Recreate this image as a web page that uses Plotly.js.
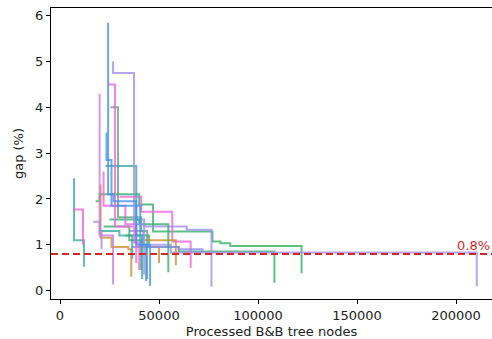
<!DOCTYPE html>
<html>
<head>
<meta charset="utf-8">
<script src="https://cdn.plot.ly/plotly-3.0.1.min.js"></script>
<style>html,body{margin:0;padding:0;background:#fff;}#chart{width:492px;height:339px;}</style>
</head>
<body>
<div id="chart"></div>
<script>
// Processed B&B tree nodes at which each run's gap changes
const runNodes = [
  [7100, 7100, 12100],
  [6600, 11600],
  [18000, 20000, 40000, 47000, 47000, 77000, 81000, 86000, 122000],
  [33000, 45000, 60000, 108300],
  [35000, 42000, 56000, 210500],
  [30000, 41000, 56700, 66000],
  [38000, 42500, 64000, 76500],
  [20000, 20500, 26000, 34500, 36000],
  [39000, 50000],
  [42000, 58500],
  [36000, 60000, 72000],
  [25000, 40000, 54700],
  [20500, 30000, 36500],
  [22000, 22000, 33000, 38500],
  [22000, 35000, 41000],
  [16700, 20000, 21000],
  [20000, 20000, 26800],
  [25500, 29300, 29300, 41000, 44000],
  [23000, 38500, 38500, 41500],
  [23500, 23500, 26000, 40500, 45500],
  [24300, 27800, 27800, 37500, 40000],
  [26800, 26800, 37400, 37400, 42500],
  [24300, 24300, 27000, 38500, 43500]
];
// gap (%) after each change
const runGaps = [
  [2.45, 1.1, 0.52],
  [1.77, 1.0],
  [1.95, 2.1, 1.88, 1.55, 1.29, 1.07, 1.03, 0.97, 0.38],
  [1.2, 0.95, 0.85, 0.17],
  [1.3, 1.0, 0.83, 0.1],
  [2.05, 1.72, 1.07, 0.5],
  [1.55, 1.4, 1.33, 0.08],
  [2.3, 1.15, 0.95, 0.9, 0.3],
  [0.95, 0.6],
  [1.1, 0.55],
  [0.95, 0.9, 0.85],
  [1.55, 1.45, 0.4],
  [1.3, 1.2, 0.7],
  [2.6, 1.85, 1.45, 0.6],
  [1.4, 1.1, 0.45],
  [1.5, 1.25, 0.9],
  [4.3, 1.2, 0.13],
  [4.0, 2.75, 1.6, 1.3, 0.25],
  [2.72, 2.0, 1.2, 0.25],
  [3.45, 2.85, 1.85, 1.0, 0.1],
  [4.5, 2.05, 1.4, 1.05, 0.45],
  [5.0, 4.75, 2.0, 1.45, 0.35],
  [5.85, 2.1, 1.95, 1.0, 0.2]
];
const runColors = [
  '#36ada4', '#f561dd', '#32b166', '#32b166', '#a48cf4', '#f561dd', '#a48cf4',
  '#ce9032', '#ce9032', '#ce9032', '#8c8cf4', '#32b166', '#36ada4', '#f561dd',
  '#32b166', '#a48cf4', '#c77de8', '#5aa58a', '#36ada4', '#3a9be8', '#f561dd',
  '#a48cf4', '#4a90f0'
];
const targetGap = 0.8;
const targetLabel = '0.8%';
const xTicks = [0, 50000, 100000, 150000, 200000];
const yTicks = [0, 1, 2, 3, 4, 5, 6];

const traces = runNodes.map((xs, i) => ({
  x: xs, y: runGaps[i], type: 'scatter', mode: 'lines',
  line: {shape: 'hv', color: runColors[i], width: 2},
  opacity: 0.8, hoverinfo: 'skip', showlegend: false
}));

const font = {family: 'DejaVu Sans, sans-serif', size: 13, color: '#222'};
const layout = {
  width: 492, height: 339,
  margin: {l: 51, r: 0, t: 8, b: 40},
  paper_bgcolor: '#fff', plot_bgcolor: '#fff',
  font: font,
  showlegend: false,
  xaxis: {
    range: [-4545, 218182], tickvals: xTicks, ticktext: xTicks.map(String),
    showgrid: false, zeroline: false, showline: true, linecolor: '#000', linewidth: 1,
    mirror: true, ticks: 'outside', ticklen: 4, tickcolor: '#000', tickfont: font,
    title: {text: 'Processed B&B tree nodes', font: font, standoff: 5}
  },
  yaxis: {
    range: [-0.185, 6.17], tickvals: yTicks, ticktext: yTicks.map(String),
    showgrid: false, zeroline: false, showline: true, linecolor: '#000', linewidth: 1,
    ticks: 'outside', ticklen: 4, tickcolor: '#000', tickfont: font,
    title: {text: 'gap (%)', font: font, standoff: 8}
  },
  shapes: [{
    type: 'line', xref: 'paper', x0: 0, x1: 1, yref: 'y', y0: targetGap, y1: targetGap,
    line: {color: '#d62728', width: 2, dash: '7px,4px'}
  }],
  annotations: [{
    text: targetLabel, xref: 'x', x: 218000, yref: 'y', y: targetGap,
    xanchor: 'right', yanchor: 'bottom', showarrow: false, yshift: -1,
    font: {family: 'DejaVu Sans, sans-serif', size: 13, color: '#d62728'}
  }]
};
Plotly.newPlot('chart', traces, layout, {displayModeBar: false, staticPlot: true});
</script>
</body>
</html>
